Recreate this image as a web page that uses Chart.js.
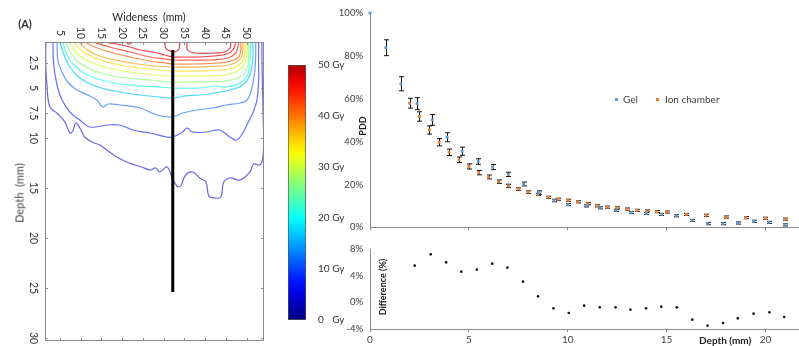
<!DOCTYPE html>
<html>
<head>
<meta charset="utf-8">
<script src="https://cdn.jsdelivr.net/npm/chart.js@4.4.1/dist/chart.umd.min.js"></script>
<style>
  html, body { margin: 0; padding: 0; background: #fff; overflow: hidden; }
  body { width: 799px; height: 346px; position: relative; font-family: Lato, sans-serif; }
  canvas { position: absolute; }
  .txt { position: absolute; white-space: nowrap; color: #222; line-height: 1; }
  .mid { transform: translate(-50%, -50%); }
  .left { transform: translate(0, -50%); }
  .rot { transform: translate(-50%, -50%) rotate(-90deg); }
  .sq { position: absolute; width: 3px; height: 3px; }
</style>
</head>
<body>
<canvas id="doseMap" style="left:0;top:0" width="275" height="346"></canvas>
<canvas id="colorBar" style="left:280px;top:55px" width="70" height="280"></canvas>
<canvas id="pddChart" style="left:330px;top:0" width="479" height="240"></canvas>
<canvas id="diffChart" style="left:330px;top:235px" width="479" height="111"></canvas>

<div class="txt mid" style="left:25px;top:23px;font-size:11px;font-weight:bold;color:#333">(A)</div>
<div class="txt mid" style="left:149px;top:17px;font-size:10.5px">Wideness&nbsp; (mm)</div>
<div class="txt rot" style="left:19px;top:193px;font-size:11px;color:#444">Depth&nbsp; (mm)</div>
<div class="txt rot" style="left:362px;top:126px;font-size:9px;font-weight:bold">PDD</div>
<div class="txt rot" style="left:382px;top:287px;font-size:9px;font-weight:bold">Difference (%)</div>
<div class="txt left" style="left:699px;top:340px;font-size:10px;font-weight:bold">Depth (mm)</div>
<div class="sq" style="left:615px;top:98px;background:#5b9bd5"></div>
<div class="txt left" style="left:623px;top:99px;font-size:10px;color:#404040">Gel</div>
<div class="sq" style="left:656px;top:98px;background:#ed7d31"></div>
<div class="txt left" style="left:665px;top:99px;font-size:10px;color:#404040">Ion chamber</div>

<script>
// dose map (isodose lines), wideness / depth in mm
const widenessTicks = [5, 10, 15, 20, 25, 30, 35, 40, 45, 50];
const depthTicks = [2.5, 5, 7.5, 10, 15, 20, 25, 30];
const doseTicks = [0, 10, 20, 30, 40, 50];

const contourLevels = [46, 46, 46, 44, 42, 39, 36, 33, 29, 25.5, 20, 16, 11, 7, 4];
const contourLines = [
  [[20.9,0.4],[21.6,0.6],[22.6,0.4]],
  [[30.3,0.4],[30.5,1.0],[31.5,1.3],[32.7,1.4],[33.7,1.1],[33.9,0.4]],
  [[35.6,0.4],[35.8,1.2],[37.5,1.5],[42.3,1.5],[44.7,1.4],[46.0,1.0],[46.2,0.4]],
  [[15.3,0.4],[18.7,0.6],[21.9,0.9],[24.3,1.2],[27.4,1.4],[30.3,1.7],[32.2,1.9],[35.1,1.9],[38.7,1.9],[42.3,1.8],[45.2,1.6],[46.7,1.2],[47.4,0.4]],
  [[12.9,0.4],[17.0,0.9],[21.9,1.4],[26.7,1.9],[30.3,2.1],[32.2,2.2],[36.3,2.2],[41.1,2.2],[45.5,2.0],[47.4,1.5],[47.9,0.9],[48.1,0.4]],
  [[11.0,0.4],[13.4,0.9],[17.0,1.4],[21.9,1.9],[26.7,2.3],[30.3,2.5],[32.2,2.6],[37.5,2.6],[43.5,2.5],[46.4,2.3],[48.1,1.9],[48.6,1.2],[48.6,0.4]],
  [[9.6,0.4],[11.7,1.2],[14.6,1.8],[19.4,2.3],[25.5,2.7],[32.2,2.9],[38.7,2.9],[44.0,2.8],[47.2,2.5],[48.6,2.0],[49.1,1.2],[49.1,0.4]],
  [[8.4,0.4],[10.3,1.3],[13.4,2.0],[18.2,2.6],[24.3,3.0],[32.2,3.3],[38.7,3.3],[44.0,3.2],[47.4,2.9],[49.1,2.3],[49.6,1.4],[49.6,0.4]],
  [[7.4,0.4],[8.8,1.4],[11.7,2.3],[15.8,2.9],[21.9,3.4],[27.9,3.7],[32.2,3.8],[38.7,3.8],[44.7,3.7],[47.9,3.3],[49.6,2.5],[50.1,1.4],[50.1,0.4]],
  [[6.4,0.4],[7.6,1.5],[9.8,2.5],[13.4,3.3],[19.4,3.9],[26.7,4.2],[32.2,4.4],[38.7,4.4],[44.7,4.3],[48.4,3.9],[50.1,3.0],[50.5,1.7],[50.5,0.4]],
  [[5.7,0.4],[6.7,1.7],[8.6,2.8],[11.7,3.7],[17.0,4.4],[24.3,4.8],[29.1,4.9],[32.2,5.0],[38.7,5.0],[42.3,4.8],[44.7,4.9],[47.9,4.6],[50.1,3.8],[50.8,2.4],[51.0,0.4]],
  [[5.0,0.4],[6.0,1.7],[7.4,2.9],[9.8,4.0],[13.4,4.8],[18.2,5.3],[24.3,5.7],[29.1,5.9],[32.2,6.0],[35.1,5.8],[38.7,5.7],[42.3,5.5],[46.0,5.2],[49.1,4.7],[50.8,3.7],[51.5,2.2],[51.5,0.4]],
  [[4.3,0.4],[4.5,2.2],[5.5,3.4],[6.9,4.4],[9.1,5.2],[12.2,5.8],[13.9,6.2],[15.3,6.9],[16.6,6.6],[19.4,6.7],[24.3,7.0],[28.4,7.7],[32.0,7.9],[34.6,7.5],[38.0,7.2],[41.9,7.0],[45.2,6.7],[48.4,6.5],[50.1,6.2],[51.3,5.0],[52.0,3.2],[52.2,1.7],[52.2,0.4]],
  [[3.3,0.4],[3.5,2.7],[4.3,4.7],[5.5,6.2],[7.4,7.4],[9.8,8.2],[12.2,8.9],[16.3,8.7],[19.4,8.7],[22.6,9.2],[26.7,9.5],[30.8,9.9],[32.2,9.9],[34.6,9.4],[35.6,9.0],[37.0,9.4],[40.4,9.4],[43.5,9.2],[46.0,9.9],[47.6,10.2],[49.1,9.5],[50.3,8.5],[51.5,7.5],[52.5,6.2],[52.9,4.2],[52.9,2.2],[52.9,0.4]],
  [[1.6,0.4],[1.6,2.9],[1.9,4.9],[2.6,6.9],[4.5,7.6],[6.2,8.4],[7.4,9.5],[8.1,9.3],[8.8,8.5],[9.8,9.0],[11.0,9.9],[12.7,10.4],[14.6,10.7],[16.3,11.2],[18.7,11.9],[21.1,12.4],[23.1,12.7],[24.7,12.9],[26.7,13.2],[28.1,13.0],[29.1,13.4],[30.8,12.9],[32.0,13.9],[33.2,14.8],[34.1,14.8],[35.3,13.7],[37.0,13.4],[38.7,14.0],[40.2,14.4],[40.9,15.8],[42.3,16.0],[43.8,15.9],[44.5,14.4],[46.0,14.0],[48.4,14.2],[50.8,13.4],[51.7,12.6],[53.2,12.7],[53.9,12.0],[54.1,10.2],[53.9,6.2],[53.7,2.2],[53.7,0.4]]
];

const probeWideness = [32.2, 32.2];
const probeDepth = [1.2, 25.4];

// PDD curves
const gelDepth = [0, 0.8, 1.56, 2.38, 3.15, 3.9, 4.66, 5.47, 6.2, 7.0, 7.78, 8.53, 9.3, 10.0, 10.9, 11.65, 12.45, 13.2, 13.97, 14.74, 15.5, 16.3, 17.07, 17.85, 18.6, 19.4, 20.17, 20.97];
const gelPdd = [100, 83.8, 67.0, 57.7, 50.1, 42.0, 35.5, 30.7, 28.1, 24.7, 20.2, 16.2, 12.5, 10.6, 10.0, 9.1, 7.9, 6.9, 6.5, 6.0, 5.4, 3.2, 1.7, 1.7, 2.0, 2.8, 2.3, 1.1];
const gelErr = [0, 3.7, 3.3, 2.8, 2.5, 2.1, 1.9, 1.3, 1.2, 1.0, 0.9, 0.8, 0.6, 0.5, 0.5, 0.5, 0.5, 0.5, 0.5, 0.5, 0.5, 0.5, 0.5, 0.5, 0.5, 0.5, 0.5, 0.5];

const ionDepth = [2.0, 2.5, 3.0, 3.5, 4.0, 4.5, 5.0, 5.5, 6.0, 6.5, 7.0, 7.5, 8.0, 8.5, 9.0, 9.5, 10.0, 10.5, 11.0, 11.5, 12.0, 12.5, 13.0, 13.5, 14.0, 14.5, 15.0, 16.0, 17.0, 18.0, 19.0, 20.0, 21.0];
const ionPdd = [57.9, 51.7, 45.4, 39.7, 35.0, 31.5, 28.4, 25.5, 23.5, 21.3, 19.3, 17.8, 16.4, 15.4, 14.0, 13.1, 12.6, 11.9, 11.0, 10.0, 9.4, 9.1, 8.5, 7.9, 7.7, 7.3, 7.1, 6.0, 5.6, 4.8, 4.5, 4.2, 3.8];
const ionErr = [2.3, 2.2, 1.9, 1.7, 1.5, 1.3, 1.2, 1.0, 0.9, 0.8, 0.8, 0.6, 0.6, 0.5, 0.5, 0.5, 0.5, 0.5, 0.5, 0.5, 0.5, 0.5, 0.5, 0.5, 0.5, 0.5, 0.5, 0.5, 0.5, 0.5, 0.5, 0.5, 0.5];

const diffDepth = [2.26, 3.07, 3.85, 4.62, 5.4, 6.18, 6.95, 7.74, 8.5, 9.28, 10.05, 10.83, 11.62, 12.42, 13.17, 13.96, 14.73, 15.52, 16.3, 17.07, 17.86, 18.6, 19.4, 20.2, 20.95];
const diffValues = [5.5, 7.2, 6.0, 4.6, 4.9, 5.8, 5.2, 3.1, 0.9, -0.9, -1.6, -0.5, -0.75, -0.75, -1.1, -0.9, -0.65, -0.75, -2.6, -3.5, -3.1, -2.4, -1.7, -1.5, -2.2];

const depthAxisTicks = [0, 5, 10, 15, 20];

const axisGray = '#8c8c8c';
const labelColor = '#404040';

function jet(t, a = 1) {
  const c = v => Math.round(255 * Math.max(0, Math.min(1, v)));
  return `rgba(${c(1.5 - Math.abs(4 * t - 3))},${c(1.5 - Math.abs(4 * t - 2))},${c(1.5 - Math.abs(4 * t - 1))},${a})`;
}

// frame, inward ticks and rotated tick labels for the dose map
const mapFrame = {
  id: 'mapFrame',
  afterDraw(chart) {
    const { ctx, chartArea: a, scales: { x, y } } = chart;
    ctx.save();
    ctx.strokeStyle = axisGray;
    ctx.lineWidth = 1;
    ctx.strokeRect(a.left + 0.5, a.top + 0.5, a.width - 1, a.height - 1);
    ctx.beginPath();
    widenessTicks.forEach(v => {
      const px = Math.round(x.getPixelForValue(v)) + 0.5;
      ctx.moveTo(px, a.top); ctx.lineTo(px, a.top + 3);
      ctx.moveTo(px, a.bottom); ctx.lineTo(px, a.bottom - 3);
    });
    depthTicks.forEach(v => {
      const py = Math.round(y.getPixelForValue(v)) + 0.5;
      ctx.moveTo(a.left, py); ctx.lineTo(a.left + 3, py);
      ctx.moveTo(a.right, py); ctx.lineTo(a.right - 3, py);
    });
    ctx.stroke();

    ctx.fillStyle = '#333';
    ctx.font = '10.5px Lato';
    ctx.textAlign = 'center';
    ctx.textBaseline = 'middle';
    widenessTicks.forEach(v => {
      ctx.save();
      ctx.translate(x.getPixelForValue(v), a.top - 9);
      ctx.rotate(Math.PI / 2);
      ctx.fillText(String(v), 0, 0);
      ctx.restore();
    });
    depthTicks.forEach(v => {
      ctx.save();
      ctx.translate(a.left - 12, y.getPixelForValue(v));
      ctx.rotate(Math.PI / 2);
      ctx.fillText(String(v), 0, 0);
      ctx.restore();
    });
    ctx.restore();
  }
};

const contourSets = contourLines.map((line, i) => ({
  data: line.map(p => ({ x: p[0], y: p[1] })),
  showLine: true,
  pointRadius: 0,
  borderColor: jet(contourLevels[i] / 50, contourLevels[i] < 15 ? 0.6 : 0.72),
  borderWidth: 1.2,
  tension: 0.4,
  order: 1
}));

new Chart(document.getElementById('doseMap'), {
  type: 'scatter',
  data: {
    datasets: [{
      data: probeWideness.map((w, i) => ({ x: w, y: probeDepth[i] })),
      showLine: true,
      pointRadius: 0,
      borderColor: '#000',
      borderWidth: 3,
      order: 0
    }].concat(contourSets)
  },
  options: {
    responsive: false,
    animation: false,
    layout: { padding: { top: 0, left: 0, right: 11, bottom: 5 } },
    plugins: { legend: { display: false }, tooltip: { enabled: false } },
    scales: {
      x: {
        type: 'linear', position: 'top', min: 1.4, max: 54.2,
        ticks: { display: false }, grid: { display: false }, border: { display: false },
        afterFit(s) { s.height = 42; }
      },
      y: {
        type: 'linear', reverse: true, min: 0.4, max: 30.3,
        ticks: { display: false }, grid: { display: false }, border: { display: false },
        afterFit(s) { s.width = 45; }
      }
    }
  },
  plugins: [mapFrame]
});

// colour bar
new Chart(document.getElementById('colorBar'), {
  type: 'bar',
  data: {
    labels: [''],
    datasets: [{
      data: [[doseTicks[0], doseTicks[doseTicks.length - 1]]],
      backgroundColor(c) {
        const a = c.chart.chartArea;
        if (!a) return '#888';
        const g = c.chart.ctx.createLinearGradient(0, a.bottom, 0, a.top);
        for (let i = 0; i <= 20; i++) g.addColorStop(i / 20, jet(i / 20 * 0.95));
        return g;
      },
      borderColor: '#555',
      borderWidth: 1,
      borderSkipped: false,
      barPercentage: 1,
      categoryPercentage: 1
    }]
  },
  options: {
    responsive: false,
    animation: false,
    layout: { padding: { top: 9, left: 8, right: 0, bottom: 15 } },
    plugins: { legend: { display: false }, tooltip: { enabled: false } },
    scales: {
      x: { display: false },
      y: {
        position: 'right', min: 0, max: 50,
        afterBuildTicks(s) { s.ticks = doseTicks.map(v => ({ value: v })); },
        ticks: {
          padding: 4, color: '#333', font: { family: 'Lato', size: 10 },
          callback: v => (v < 10 ? v + '\u2007' : v) + ' Gy'
        },
        grid: { display: false }, border: { display: false },
        afterFit(s) { s.width = 44; }
      }
    }
  }
});

// error bars drawn beneath the markers
const errorBars = {
  id: 'errorBars',
  beforeDatasetsDraw(chart) {
    const { ctx, scales: { x, y } } = chart;
    ctx.save();
    ctx.strokeStyle = '#111';
    ctx.lineWidth = 1;
    chart.data.datasets.forEach(ds => {
      if (!ds.errors) return;
      ds.data.forEach((p, j) => {
        const e = ds.errors[j];
        if (!e) return;
        const px = Math.round(x.getPixelForValue(p.x)) + 0.5;
        const t = y.getPixelForValue(p.y + e);
        const b = y.getPixelForValue(p.y - e);
        ctx.beginPath();
        ctx.moveTo(px, t); ctx.lineTo(px, b);
        ctx.moveTo(px - 2.5, t); ctx.lineTo(px + 2.5, t);
        ctx.moveTo(px - 2.5, b); ctx.lineTo(px + 2.5, b);
        ctx.stroke();
      });
    });
    ctx.restore();
  }
};

const depthScale = {
  type: 'linear', min: 0, max: 22,
  afterBuildTicks(s) { s.ticks = depthAxisTicks.map(v => ({ value: v })); },
  grid: { drawOnChartArea: false, tickLength: 3, color: axisGray },
  border: { color: axisGray }
};

new Chart(document.getElementById('pddChart'), {
  type: 'scatter',
  data: {
    datasets: [
      {
        label: 'Gel',
        data: gelDepth.map((d, i) => ({ x: d, y: gelPdd[i] })),
        errors: gelErr,
        backgroundColor: '#5b9bd5', pointStyle: 'rect', pointRadius: 2, borderWidth: 0, clip: false
      },
      {
        label: 'Ion chamber',
        data: ionDepth.map((d, i) => ({ x: d, y: ionPdd[i] })),
        errors: ionErr,
        backgroundColor: '#ed7d31', pointStyle: 'rect', pointRadius: 2, borderWidth: 0, clip: false
      }
    ]
  },
  options: {
    responsive: false,
    animation: false,
    layout: { padding: { top: 13, left: 0, right: 2, bottom: 0 } },
    plugins: { legend: { display: false }, tooltip: { enabled: false } },
    scales: {
      x: Object.assign({}, depthScale, {
        ticks: { display: false },
        afterFit(s) { s.height = 11; }
      }),
      y: {
        min: 0, max: 100,
        ticks: { stepSize: 20, padding: 7, color: labelColor, font: { family: 'Lato', size: 9.5 }, callback: v => v + '%' },
        grid: { drawOnChartArea: false, drawTicks: false, color: axisGray },
        border: { color: axisGray },
        afterFit(s) { s.width = 40; }
      }
    }
  },
  plugins: [errorBars]
});

new Chart(document.getElementById('diffChart'), {
  type: 'scatter',
  data: {
    datasets: [{
      label: 'Difference',
      data: diffDepth.map((d, i) => ({ x: d, y: diffValues[i] })),
      backgroundColor: '#111', pointRadius: 1.3, borderWidth: 0, clip: false
    }]
  },
  options: {
    responsive: false,
    animation: false,
    layout: { padding: { top: 14, left: 0, right: 2, bottom: 0 } },
    plugins: { legend: { display: false }, tooltip: { enabled: false } },
    scales: {
      x: Object.assign({}, depthScale, {
        ticks: { padding: 2, color: labelColor, font: { family: 'Lato', size: 10 } },
        afterFit(s) { s.height = 17; }
      }),
      y: {
        min: -4, max: 8,
        ticks: { stepSize: 4, padding: 7, color: labelColor, font: { family: 'Lato', size: 9.5 }, callback: v => v + '%' },
        grid: { drawOnChartArea: false, drawTicks: false, color: axisGray },
        border: { color: axisGray },
        afterFit(s) { s.width = 40; }
      }
    }
  }
});
</script>
</body>
</html>
